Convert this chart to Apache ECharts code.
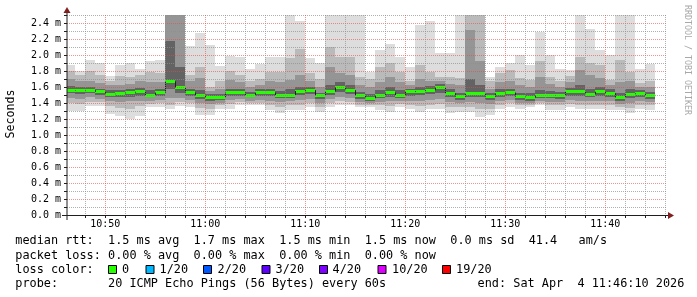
<!DOCTYPE html>
<html><head><meta charset="utf-8">
<script src="https://cdn.jsdelivr.net/npm/echarts@6/dist/echarts.min.js"></script>
<style>html,body{margin:0;padding:0;background:#fff}#c{width:697px;height:297px}</style>
</head><body><div id="c"></div>
<script>
// ---- data (one column per minute, 20 pings each; values in ms) ----
const times = ['10:46','10:47','10:48','10:49','10:50','10:51','10:52','10:53','10:54','10:55',
  '10:56','10:57','10:58','10:59','11:00','11:01','11:02','11:03','11:04','11:05',
  '11:06','11:07','11:08','11:09','11:10','11:11','11:12','11:13','11:14','11:15',
  '11:16','11:17','11:18','11:19','11:20','11:21','11:22','11:23','11:24','11:25',
  '11:26','11:27','11:28','11:29','11:30','11:31','11:32','11:33','11:34','11:35',
  '11:36','11:37','11:38','11:39','11:40','11:41','11:42','11:43','11:44'];
const pMax = [1.88,1.80,1.94,1.90,1.74,1.88,1.90,1.82,1.92,1.94,
  3.20,3.20,2.11,2.28,2.13,1.86,1.99,1.97,1.83,1.89,
  1.98,1.97,2.90,2.42,1.96,1.90,2.90,2.90,2.90,2.90,
  1.79,2.06,2.14,1.98,1.85,2.38,2.43,2.03,2.03,2.90,
  3.20,3.20,1.73,1.85,1.90,2.00,1.88,2.29,2.00,1.83,
  1.81,2.90,2.33,2.06,2.00,2.90,2.90,1.83,1.89];
const high1 = [1.80,1.75,1.80,1.75,1.67,1.74,1.72,1.75,1.79,1.78,
  2.90,2.90,1.75,1.85,1.60,1.67,1.80,1.75,1.67,1.70,
  1.79,1.79,1.96,2.08,1.78,1.70,2.10,1.98,1.98,1.73,
  1.70,1.85,1.90,1.79,1.67,1.88,1.79,1.73,1.73,1.71,
  2.90,2.90,1.67,1.77,1.81,1.71,1.69,1.92,1.73,1.67,
  1.74,1.98,1.90,1.87,1.69,1.94,1.79,1.65,1.67];
const high2 = [1.70,1.68,1.67,1.65,1.62,1.63,1.64,1.68,1.66,1.66,
  2.60,2.60,1.67,1.71,1.55,1.57,1.69,1.66,1.60,1.62,
  1.67,1.66,1.69,1.75,1.68,1.60,1.85,1.78,1.75,1.62,
  1.60,1.66,1.72,1.66,1.62,1.70,1.68,1.68,1.64,1.62,
  2.31,1.92,1.58,1.66,1.68,1.62,1.60,1.72,1.64,1.60,
  1.66,1.81,1.75,1.71,1.62,1.66,1.67,1.60,1.60];
const high3 = [1.61,1.60,1.60,1.58,1.56,1.56,1.58,1.59,1.56,1.58,
  2.17,1.85,1.58,1.56,1.51,1.51,1.57,1.57,1.54,1.57,
  1.58,1.55,1.57,1.60,1.60,1.53,1.62,1.66,1.62,1.54,
  1.51,1.56,1.60,1.56,1.58,1.60,1.61,1.64,1.57,1.53,
  1.70,1.62,1.52,1.57,1.58,1.53,1.52,1.56,1.55,1.54,
  1.59,1.62,1.57,1.60,1.57,1.53,1.57,1.56,1.54];
const median = [1.56,1.555,1.56,1.54,1.51,1.515,1.53,1.54,1.50,1.53,
  1.67,1.59,1.53,1.49,1.47,1.47,1.53,1.53,1.50,1.53,
  1.53,1.50,1.50,1.55,1.56,1.49,1.545,1.60,1.56,1.49,
  1.46,1.50,1.53,1.50,1.54,1.55,1.56,1.595,1.52,1.48,
  1.52,1.52,1.48,1.52,1.53,1.48,1.47,1.50,1.50,1.49,
  1.54,1.54,1.51,1.54,1.52,1.47,1.51,1.52,1.49];
const low3 = [1.52,1.51,1.52,1.50,1.47,1.47,1.48,1.49,1.47,1.49,
  1.58,1.53,1.49,1.45,1.43,1.44,1.49,1.49,1.47,1.49,
  1.49,1.46,1.46,1.50,1.51,1.45,1.50,1.54,1.51,1.45,
  1.43,1.46,1.48,1.46,1.49,1.50,1.51,1.53,1.47,1.44,
  1.47,1.47,1.44,1.48,1.49,1.44,1.43,1.46,1.46,1.45,
  1.49,1.49,1.47,1.49,1.47,1.43,1.46,1.47,1.45];
const low2 = [1.46,1.45,1.47,1.45,1.42,1.41,1.42,1.43,1.43,1.44,
  1.46,1.46,1.44,1.40,1.39,1.40,1.44,1.45,1.43,1.44,
  1.43,1.41,1.42,1.44,1.45,1.40,1.45,1.47,1.46,1.41,
  1.40,1.41,1.42,1.42,1.43,1.43,1.44,1.45,1.41,1.40,
  1.41,1.40,1.39,1.43,1.44,1.40,1.40,1.43,1.41,1.41,
  1.44,1.43,1.42,1.43,1.42,1.39,1.40,1.42,1.41];
const low1 = [1.40,1.39,1.41,1.41,1.36,1.34,1.33,1.36,1.39,1.40,
  1.38,1.41,1.40,1.34,1.33,1.37,1.39,1.41,1.40,1.40,
  1.38,1.35,1.37,1.38,1.40,1.35,1.40,1.42,1.41,1.38,
  1.38,1.37,1.36,1.39,1.38,1.36,1.38,1.39,1.35,1.35,
  1.35,1.33,1.33,1.38,1.40,1.37,1.38,1.40,1.37,1.37,
  1.39,1.38,1.38,1.38,1.37,1.35,1.34,1.38,1.37];
const pMin = [1.30,1.30,1.36,1.36,1.26,1.24,1.20,1.24,1.35,1.35,
  1.32,1.36,1.35,1.25,1.25,1.33,1.33,1.37,1.37,1.37,
  1.31,1.27,1.31,1.31,1.35,1.29,1.35,1.37,1.37,1.35,
  1.35,1.31,1.29,1.35,1.33,1.29,1.33,1.33,1.27,1.29,
  1.29,1.23,1.25,1.33,1.35,1.33,1.35,1.37,1.31,1.31,
  1.35,1.33,1.33,1.33,1.31,1.31,1.27,1.33,1.31];
const xTickLabels = ['10:50','11:00','11:10','11:20','11:30','11:40'];
const yTickLabels = ['0.0 m','0.2 m','0.4 m','0.6 m','0.8 m','1.0 m','1.2 m','1.4 m','1.6 m','1.8 m','2.0 m','2.2 m','2.4 m'];
const lossLabels = ['0','1/20','2/20','3/20','4/20','10/20','19/20'];
const lossColors = ['#26ff00','#00b8ff','#0059ff','#5e00ff','#7e00ff','#dd00ff','#ff0000'];
const legendLines = [
  'median rtt:  1.5 ms avg  1.7 ms max  1.5 ms min  1.5 ms now  0.0 ms sd  41.4   am/s',
  'packet loss: 0.00 % avg  0.00 % max  0.00 % min  0.00 % now',
  'loss color:',
  'probe:       20 ICMP Echo Pings (56 Bytes) every 60s'
];
const endText = 'end: Sat Apr  4 11:46:10 2026';

// ---- layout / style ----
const G = {left: 67, top: 15, width: 600, height: 200};
const startMin = 46 + 10 / 60, endMin = startMin + 60;   // 10:46:10 .. 11:46:10
const gridFrom = 48, gridTo = 106;
const pxPerMin = G.width / (endMin - startMin);
const SMOKE = ['#dddddd', '#bababa', '#959595', '#636363'];
const MONO = '"DejaVu Sans Mono", monospace';
const toMin = s => { const p = s.split(':').map(Number); return (p[0] - 10) * 60 + p[1]; };

const data = times.map((t, i) => [toMin(t), pMin[i], low1[i], low2[i], low3[i], median[i], high3[i], high2[i], high1[i], pMax[i]]);

function renderItem(params, api) {
  const i = params.dataIndex;
  const t = api.value(0);
  const xL = Math.round(api.coord([t, 0])[0]);
  const xR = Math.round(api.coord([t + 1, 0])[0]);
  const Y = v => Math.round(api.coord([t, v])[1]);
  const band = (lo, hi, fill) => ({type: 'rect', shape: {x: xL, y: Y(hi), width: xR - xL, height: Y(lo) - Y(hi)}, style: {fill: fill}});
  const ch = [
    band(api.value(1), api.value(9), SMOKE[0]),
    band(api.value(2), api.value(8), SMOKE[1]),
    band(api.value(3), api.value(7), SMOKE[2]),
    band(api.value(4), api.value(6), SMOKE[3])
  ];
  const ym = api.coord([t, api.value(5)])[1];
  ch.push({type: 'rect', shape: {x: xL, y: Math.round(ym - 1.5), width: xR - xL, height: 3}, style: {fill: lossColors[0]}});
  if (i > 0) {
    const yp = api.coord([t, median[i - 1]])[1];
    ch.push({type: 'line', shape: {x1: xL + 0.5, y1: yp, x2: xL + 0.5, y2: ym}, style: {stroke: '#202020', lineWidth: 1}});
  }
  return {type: 'group', children: ch};
}

const graphic = [];
// axes lines & arrows
graphic.push({type: 'line', z: 100, shape: {x1: G.left, y1: G.top + G.height + 5, x2: G.left, y2: G.top - 6}, style: {stroke: '#1f1f1f', lineWidth: 1}});
graphic.push({type: 'polygon', z: 101, shape: {points: [[G.left - 3.5, G.top - 2], [G.left + 3.5, G.top - 2], [G.left, G.top - 8]]}, style: {fill: '#7f1f1f'}});
graphic.push({type: 'line', z: 100, shape: {x1: G.left - 5, y1: G.top + G.height + 0.5, x2: G.left + G.width + 2, y2: G.top + G.height + 0.5}, style: {stroke: '#1f1f1f', lineWidth: 1}});
graphic.push({type: 'polygon', z: 101, shape: {points: [[G.left + G.width + 1, G.top + G.height - 3], [G.left + G.width + 1, G.top + G.height + 4], [G.left + G.width + 7, G.top + G.height + 0.5]]}, style: {fill: '#7f1f1f'}});
// axis title and watermark
graphic.push({type: 'text', z: 100, x: 11, y: 114, rotation: Math.PI / 2, style: {text: 'Seconds', font: '11.6px ' + MONO, fill: '#000', align: 'center', verticalAlign: 'middle'}});
graphic.push({type: 'text', z: 100, x: 687.5, y: 60, rotation: -Math.PI / 2, style: {text: 'RRDTOOL / TOBI OETIKER', font: '8.3px ' + MONO, fill: '#a8a8a8', align: 'center', verticalAlign: 'middle'}});
// legend
const LF = '11.85px ' + MONO;
const lineY = [241, 255.7, 269.5, 283.8];
legendLines.forEach((s, k) => graphic.push({type: 'text', z: 100, x: 15.3, y: lineY[k], style: {text: s, font: LF, fill: '#000', verticalAlign: 'middle'}}));
graphic.push({type: 'text', z: 100, x: 477.6, y: lineY[3], style: {text: endText, font: LF, fill: '#000', verticalAlign: 'middle'}});
const sqX = [108.5, 146, 203.5, 262, 319.5, 378, 442.5];
const lbX = [122, 159.5, 217.5, 275.5, 332.5, 392, 456];
lossLabels.forEach((l, k) => {
  graphic.push({type: 'rect', z: 100, shape: {x: sqX[k], y: 265.5, width: 8, height: 8}, style: {fill: lossColors[k], stroke: '#000', lineWidth: 1}});
  graphic.push({type: 'text', z: 100, x: lbX[k], y: lineY[2], style: {text: l, font: LF, fill: '#000', verticalAlign: 'middle'}});
});

const chart = echarts.init(document.getElementById('c'), null, {renderer: 'canvas', width: 697, height: 297});
chart.setOption({
  backgroundColor: '#ffffff',
  animation: false,
  grid: [
    {left: G.left, top: G.top, width: G.width, height: G.height},
    {left: G.left + (gridFrom - startMin) * pxPerMin, top: G.top, width: (gridTo - gridFrom) * pxPerMin, height: G.height}
  ],
  xAxis: [
    {type: 'value', gridIndex: 0, min: startMin, max: endMin, show: false},
    {type: 'value', gridIndex: 1, min: gridFrom, max: gridTo, interval: 2, z: 5,
      axisLine: {show: false},
      axisTick: {show: true, length: 3, lineStyle: {color: '#1f1f1f'}},
      axisLabel: {margin: 4, fontFamily: MONO, fontSize: 10, color: '#000',
        formatter: v => (Math.round(v) % 10 === 0 ? (xTickLabels[(Math.round(v) - 50) / 10] || '') : '')},
      splitLine: {show: true, lineStyle: {type: [1, 1], width: 1,
        color: ['rgba(143,143,143,0.7)', 'rgba(222,79,79,0.6)', 'rgba(143,143,143,0.7)', 'rgba(143,143,143,0.7)', 'rgba(143,143,143,0.7)']}}}
  ],
  yAxis: [
    {type: 'value', gridIndex: 0, min: 0, max: 2.5, interval: 0.1, z: 5,
      axisLine: {show: false},
      axisTick: {show: true, length: 3, lineStyle: {color: '#1f1f1f'}},
      axisLabel: {margin: 6, fontFamily: MONO, fontSize: 10, color: '#000',
        formatter: v => { const k = Math.round(v * 10); return k % 2 === 0 ? (yTickLabels[k / 2] || '') : ''; }},
      splitLine: {show: true, lineStyle: {type: [1, 1], width: 1, color: ['rgba(222,79,79,0.6)', 'rgba(143,143,143,0.7)']}}},
    {type: 'value', gridIndex: 1, min: 0, max: 1, show: false}
  ],
  series: [{type: 'custom', xAxisIndex: 0, yAxisIndex: 0, clip: true, z: 2, renderItem: renderItem, data: data,
    encode: {x: 0, y: 5}}],
  graphic: graphic
});
</script></body></html>
